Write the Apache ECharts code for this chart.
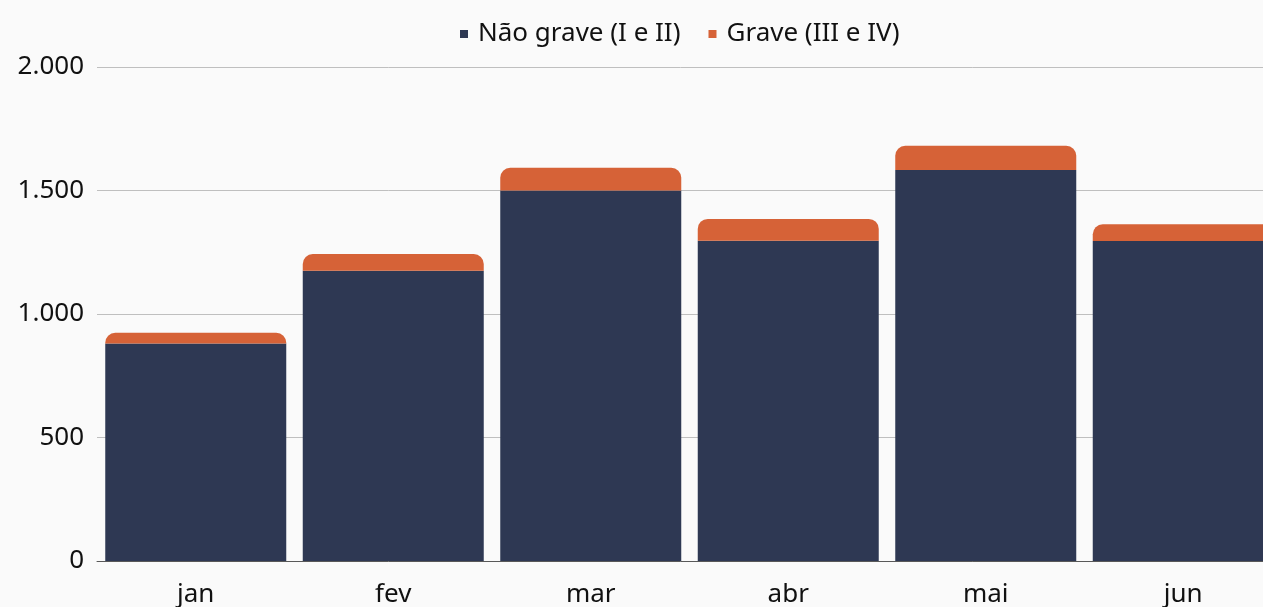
<!DOCTYPE html>
<html>
<head>
<meta charset="utf-8">
<script src="https://cdn.jsdelivr.net/npm/echarts@6/dist/echarts.min.js"></script>
<style>
    html, body { margin: 0; padding: 0; background: #fafafa; }
    #chart { width: 1263px; height: 607px; }
</style>
</head>
<body>
<div id="chart"></div>
<script>
    // dados
    var meses = ['jan', 'fev', 'mar', 'abr', 'mai', 'jun'];
    var naoGrave = [881, 1175, 1500, 1297, 1583, 1296];
    var grave = [43, 68, 92, 88, 98, 67];
    var yTicks = [0, 500, 1000, 1500, 2000];

    var fonte = '"Noto Sans", sans-serif';

    function fmt(v) { // separador de milhar com ponto
        return String(v).replace(/\B(?=(\d{3})+(?!\d))/g, '.');
    }

    var myChart = echarts.init(document.getElementById('chart'));
    var option = {
        backgroundColor: '#fafafa',
        animation: false,
        textStyle: { fontFamily: fonte },
        legend: {
            top: 16,
            left: 455,
            itemWidth: 8,
            itemHeight: 8,
            itemGap: 28,
            icon: 'rect',
            textStyle: { fontSize: 26, color: '#111', fontFamily: fonte, padding: [0, 0, 0, 5] },
            data: ['Não grave (I e II)', 'Grave (III e IV)']
        },
        grid: {
            left: 97,
            width: 1185,
            top: 67,
            bottom: 46,
            containLabel: false,
            outerBoundsMode: 'none'
        },
        xAxis: {
            type: 'category',
            data: meses,
            axisTick: { show: false },
            axisLine: { lineStyle: { color: '#595959', width: 1 } },
            axisLabel: { fontSize: 26, color: '#111', margin: 21, fontFamily: fonte }
        },
        yAxis: {
            type: 'value',
            min: yTicks[0],
            max: yTicks[yTicks.length - 1],
            interval: 500,
            axisLine: { show: false },
            axisTick: { show: false },
            splitLine: { lineStyle: { color: '#bfbfbf', width: 1 } },
            axisLabel: {
                fontSize: 26, color: '#111', margin: 13, fontFamily: fonte,
                formatter: fmt
            }
        },
        series: [{
            name: 'Não grave (I e II)',
            type: 'bar',
            stack: 'total',
            barWidth: 181,
            itemStyle: { color: '#2e3853' },
            data: naoGrave
        }, {
            name: 'Grave (III e IV)',
            type: 'bar',
            stack: 'total',
            barWidth: 181,
            itemStyle: { color: '#d66237', borderRadius: [10, 10, 0, 0] },
            data: grave
        }]
    };
    myChart.setOption(option);
</script>
</body>
</html>
